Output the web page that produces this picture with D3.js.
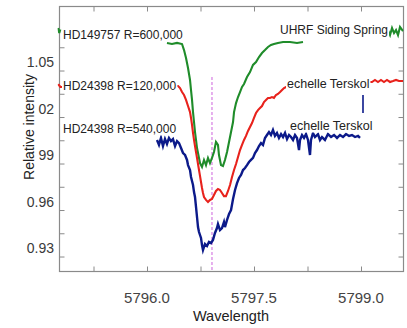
<!DOCTYPE html>
<html><head><meta charset="utf-8">
<script src="https://cdn.jsdelivr.net/npm/d3@7"></script>
<style>
body{margin:0;background:#fff}
svg{display:block;font-family:"Liberation Sans",Arial,Helvetica,sans-serif}
</style>
</head><body>
<svg id="c" width="407" height="328"></svg>
<script>
// ---------------- data ----------------
const xTickValues = [5795.25, 5796.0, 5796.75, 5797.5, 5798.25, 5799.0];
const xLabelValues = [5796.0, 5797.5, 5799.0];
const xLabels = ["5796.0", "5797.5", "5799.0"];
const yTickValues = [0.9245, 0.9395, 0.9545, 0.9695, 0.9845, 0.9995, 1.0145, 1.0295, 1.0445, 1.0595];
const yLabelValues = [0.93, 0.96, 0.99, 1.02, 1.05];
const yLabels = ["0.93", "0.96", "0.99", "1.02", "1.05"];

// HD149757, UHRF Siding Spring (green); null = gap
const greenWave = [5794.755, 5794.770, 5794.785, 5794.80,
  5796.280, 5796.350, 5796.421, 5796.491, 5796.519, 5796.547, 5796.575, 5796.603, 5796.617, 5796.631,
  5796.645, 5796.659, 5796.673, 5796.687, 5796.701, 5796.715, 5796.729, 5796.743, 5796.771, 5796.799,
  5796.827, 5796.855, 5796.883, 5796.911, 5796.939, 5796.967, 5796.995, 5797.009, 5797.037, 5797.065,
  5797.093, 5797.122, 5797.150, 5797.178, 5797.206, 5797.220, 5797.248, 5797.276, 5797.304, 5797.332,
  5797.360, 5797.402, 5797.444, 5797.486, 5797.528, 5797.570, 5797.612, 5797.654, 5797.696, 5797.738,
  5797.780, 5797.836, 5797.907, 5798.005, 5798.103, 5798.187, 5798.20,
  5799.378, 5799.407, 5799.435, 5799.463, 5799.491, 5799.519, 5799.547, 5799.589];
const greenFlux = [1.0719, 1.0687, 1.0710, null,
  1.0623, 1.0616, 1.0623, 1.0616, 1.0577, 1.0526, 1.0461, 1.0384, 1.0319, 1.0255,
  1.0177, 1.0113, 1.0048, 0.9997, 0.9945, 0.9913, 0.9881, 0.9848, 0.9823, 0.9868,
  0.9835, 0.9881, 0.9848, 0.9881, 0.9919, 0.9984, 0.9965, 0.9900, 0.9835, 0.9829,
  0.9868, 0.9919, 0.9984, 1.0048, 1.0113, 1.0177, 1.0235, 1.0274, 1.0306, 1.0339,
  1.0358, 1.0403, 1.0435, 1.0481, 1.0500, 1.0532, 1.0558, 1.0577, 1.0597, 1.0610,
  1.0616, 1.0623, 1.0629, 1.0629, 1.0623, 1.0629, null,
  1.0706, 1.0674, 1.0719, 1.0687, 1.0706, 1.0674, 1.0726, 1.0700];

// HD24398 R=120,000, echelle Terskol (red)
const redWave = [5794.755, 5794.785, 5795.341, 5795.902, 5796.435, 5796.463, 5796.491, 5796.519, 5796.547, 5796.575,
  5796.603, 5796.617, 5796.631, 5796.645, 5796.659, 5796.673, 5796.687, 5796.701, 5796.715, 5796.729,
  5796.743, 5796.757, 5796.771, 5796.785, 5796.799, 5796.827, 5796.855, 5796.883, 5796.911, 5796.939,
  5796.967, 5796.995, 5797.023, 5797.051, 5797.079, 5797.107, 5797.136, 5797.164, 5797.192, 5797.220,
  5797.248, 5797.276, 5797.304, 5797.332, 5797.360, 5797.388, 5797.416, 5797.444, 5797.472, 5797.500,
  5797.528, 5797.556, 5797.584, 5797.612, 5797.640, 5797.668, 5797.696, 5797.724, 5797.752, 5797.780,
  5797.808, 5797.836, 5797.865, 5797.893, 5797.921, 5797.949, 5798.145, 5798.566, 5798.986, 5799.154,
  5799.196, 5799.238, 5799.280, 5799.322, 5799.364, 5799.407, 5799.449, 5799.491, 5799.533, 5799.589];
const redFlux = [1.0358, 1.0339, 1.0345, 1.0352, 1.0345, 1.0332, 1.0306, 1.0287, 1.0255, 1.0216,
  1.0177, 1.0139, 1.0094, 1.0042, 0.9997, 0.9958, 0.9919, 0.9881, 0.9842, 0.9803,
  0.9765, 0.9726, 0.9687, 0.9655, 0.9629, 0.9610, 0.9597, 0.9610, 0.9616, 0.9642,
  0.9668, 0.9681, 0.9674, 0.9655, 0.9635, 0.9635, 0.9668, 0.9706, 0.9758, 0.9803,
  0.9842, 0.9887, 0.9932, 0.9965, 0.9997, 1.0023, 1.0055, 1.0081, 1.0106, 1.0139,
  1.0171, 1.0190, 1.0203, 1.0216, 1.0242, 1.0255, 1.0268, 1.0268, 1.0274, 1.0268,
  1.0287, 1.0294, 1.0306, 1.0319, 1.0332, 1.0339, 1.0345, 1.0358, 1.0371, 1.0371,
  1.0384, 1.0371, 1.0384, 1.0371, 1.0384, 1.0371, 1.0377, 1.0384, 1.0377, 1.0377];

// HD24398 R=540,000, echelle Terskol (blue)
const blueWave = [5796.140, 5796.168, 5796.196, 5796.224, 5796.252, 5796.280, 5796.308, 5796.336, 5796.364,
  5796.393, 5796.421, 5796.449, 5796.477, 5796.505, 5796.533, 5796.561, 5796.575, 5796.603, 5796.617,
  5796.645, 5796.659, 5796.673, 5796.687, 5796.701, 5796.715, 5796.729, 5796.757, 5796.771, 5796.785,
  5796.813, 5796.841, 5796.869, 5796.897, 5796.925, 5796.953, 5796.981, 5796.995, 5797.023, 5797.051,
  5797.079, 5797.093, 5797.122, 5797.150, 5797.178, 5797.206, 5797.234, 5797.262, 5797.290, 5797.318,
  5797.346, 5797.374, 5797.402, 5797.430, 5797.458, 5797.486, 5797.514, 5797.542, 5797.570, 5797.598,
  5797.626, 5797.654, 5797.682, 5797.710, 5797.738, 5797.766, 5797.794, 5797.822, 5797.850, 5797.879,
  5797.907, 5797.935, 5797.963, 5797.991, 5798.019, 5798.047, 5798.075, 5798.103, 5798.131, 5798.145,
  5798.173, 5798.201, 5798.229, 5798.257, 5798.285, 5798.299, 5798.327, 5798.355, 5798.397, 5798.425,
  5798.453, 5798.495, 5798.537, 5798.580, 5798.622, 5798.664, 5798.706, 5798.748, 5798.790, 5798.832,
  5798.874, 5798.916, 5798.958, 5798.986];
const blueFlux = [0.9997, 0.9965, 1.0010, 0.9958, 1.0003, 0.9971, 1.0010, 0.9990, 1.0003,
  0.9958, 0.9990, 0.9977, 0.9945, 0.9913, 0.9900, 0.9868, 0.9835, 0.9803, 0.9758,
  0.9706, 0.9661, 0.9629, 0.9565, 0.9500, 0.9435, 0.9403, 0.9365, 0.9319, 0.9287,
  0.9326, 0.9313, 0.9339, 0.9332, 0.9352, 0.9397, 0.9429, 0.9455, 0.9416, 0.9429,
  0.9468, 0.9435, 0.9481, 0.9519, 0.9545, 0.9616, 0.9674, 0.9719, 0.9752, 0.9771,
  0.9803, 0.9816, 0.9835, 0.9855, 0.9868, 0.9881, 0.9913, 0.9932, 0.9958, 0.9977,
  0.9965, 1.0010, 1.0029, 1.0048, 1.0029, 1.0061, 1.0023, 1.0042, 1.0010, 1.0035,
  1.0016, 1.0042, 1.0003, 1.0029, 1.0016, 0.9997, 1.0029, 1.0010, 0.9932, 0.9997,
  1.0029, 1.0010, 1.0035, 0.9997, 0.9900, 0.9997, 1.0042, 1.0016, 1.0035, 0.9997,
  1.0016, 0.9997, 1.0035, 1.0016, 1.0029, 1.0010, 1.0029, 1.0016, 1.0035, 1.0023,
  1.0029, 1.0016, 1.0023, 1.0010];

// short blue vertical segment
const blueStubWave = [5799.028, 5799.028];
const blueStubFlux = [1.0287, 1.0171];

// dashed rest-wavelength marker
const markerWave = 5796.911;
const markerFlux = [0.9158, 1.0416];

const labelTexts = ["HD149757 R=600,000", "HD24398 R=120,000", "HD24398 R=540,000",
  "UHRF Siding Spring", "echelle Terskol", "echelle Terskol"];

// ---------------- drawing ----------------
const pL = 59.5, pR = 403.5, pT = 6.5, pB = 271.5;
const svg = d3.select("#c");
const x = d3.scaleLinear().domain([5794.7733, 5799.5958]).range([pL, pR]);
const y = d3.scaleLinear().domain([0.91484, 1.08581]).range([pB, pT]);

const axisColor = "#8a8a8a";
svg.append("defs").append("clipPath").attr("id", "clip")
  .append("rect").attr("x", pL - 2).attr("y", pT).attr("width", pR - pL + 2).attr("height", pB - pT);

function styleAxis(g) {
  g.select(".domain").remove();
  g.selectAll(".tick line").attr("stroke", axisColor).attr("stroke-width", 1);
  g.selectAll(".tick text").remove();
}
svg.append("g").attr("transform", `translate(0,${pB})`)
  .call(d3.axisBottom(x).tickValues(xTickValues).tickSize(-5).tickFormat("")).call(styleAxis);
svg.append("g").attr("transform", `translate(0,${pT})`)
  .call(d3.axisTop(x).tickValues(xTickValues).tickSize(-5).tickFormat("")).call(styleAxis);
svg.append("g").attr("transform", `translate(${pL},0)`)
  .call(d3.axisLeft(y).tickValues(yTickValues).tickSize(-5).tickFormat("")).call(styleAxis);
svg.append("g").attr("transform", `translate(${pR},0)`)
  .call(d3.axisRight(y).tickValues(yTickValues).tickSize(-5).tickFormat("")).call(styleAxis);

svg.append("rect").attr("x", pL).attr("y", pT).attr("width", pR - pL).attr("height", pB - pT)
  .attr("fill", "none").attr("stroke", axisColor).attr("stroke-width", 1.2);

svg.append("g").selectAll("text").data(xLabelValues).join("text")
  .attr("x", d => x(d)).attr("y", 303).attr("text-anchor", "middle")
  .attr("font-size", 15).attr("fill", "#444").text((d, i) => xLabels[i]);

// y tick labels
svg.append("g").selectAll("text").data(yLabelValues).join("text")
  .attr("x", 54).attr("y", d => y(d)).attr("dy", "0.36em").attr("text-anchor", "end")
  .attr("font-size", 14).attr("fill", "#3a3a3a")
  .text((d, i) => yLabels[i]);

// y title over a plain white strip that hides the label parts beneath it
svg.append("rect").attr("x", 18).attr("y", 70).attr("width", 20).attr("height", 114).attr("fill", "#fff");
svg.append("text").attr("transform", "translate(34,127) rotate(-90)")
  .attr("text-anchor", "middle").attr("font-size", 14).attr("fill", "#222")
  .text("Relative intensity");

const plot = svg.append("g").attr("clip-path", "url(#clip)");
const line = d3.line().defined(d => d[1] != null).x(d => x(d[0])).y(d => y(d[1]));
function series(wave, flux) { return wave.map((w, i) => [w, flux[i]]); }

plot.append("line")
  .attr("x1", x(markerWave)).attr("x2", x(markerWave))
  .attr("y1", y(markerFlux[0])).attr("y2", y(markerFlux[1]))
  .attr("stroke", "#c850d8").attr("stroke-width", 0.9).attr("stroke-dasharray", "3,2");

plot.append("path").datum(series(greenWave, greenFlux)).attr("d", line)
  .attr("fill", "none").attr("stroke", "#1f8c2a").attr("stroke-width", 2.1);
plot.append("path").datum(series(redWave, redFlux)).attr("d", line)
  .attr("fill", "none").attr("stroke", "#e8221c").attr("stroke-width", 2.1);
plot.append("path").datum(series(blueWave, blueFlux)).attr("d", line)
  .attr("fill", "none").attr("stroke", "#0c1a8a").attr("stroke-width", 2.4);
plot.append("path").datum(series(blueStubWave, blueStubFlux)).attr("d", line)
  .attr("fill", "none").attr("stroke", "#0c1a8a").attr("stroke-width", 1.6);

const labelLayout = [
  {x: 63, y: 38.5, size: 12}, {x: 63, y: 90, size: 12}, {x: 63, y: 133, size: 12},
  {x: 280, y: 34, size: 12}, {x: 287, y: 87.5, size: 12.5}, {x: 290, y: 130, size: 12.5}
];
const ann = svg.append("g");
labelTexts.forEach((t, i) => {
  const L = labelLayout[i];
  const g = ann.append("g");
  const bg = g.append("rect").attr("fill", "#fff");
  const tx = g.append("text").attr("x", L.x).attr("y", L.y).attr("font-size", L.size)
    .attr("fill", "#222").text(t);
  const bb = tx.node().getBBox();
  bg.attr("x", bb.x - 1).attr("y", L.y - L.size * 0.75).attr("width", bb.width + 2).attr("height", L.size * 0.95);
});

svg.append("text").attr("x", 231).attr("y", 321).attr("text-anchor", "middle")
  .attr("font-size", 14.5).attr("fill", "#222").text("Wavelength");
</script>
</body></html>
